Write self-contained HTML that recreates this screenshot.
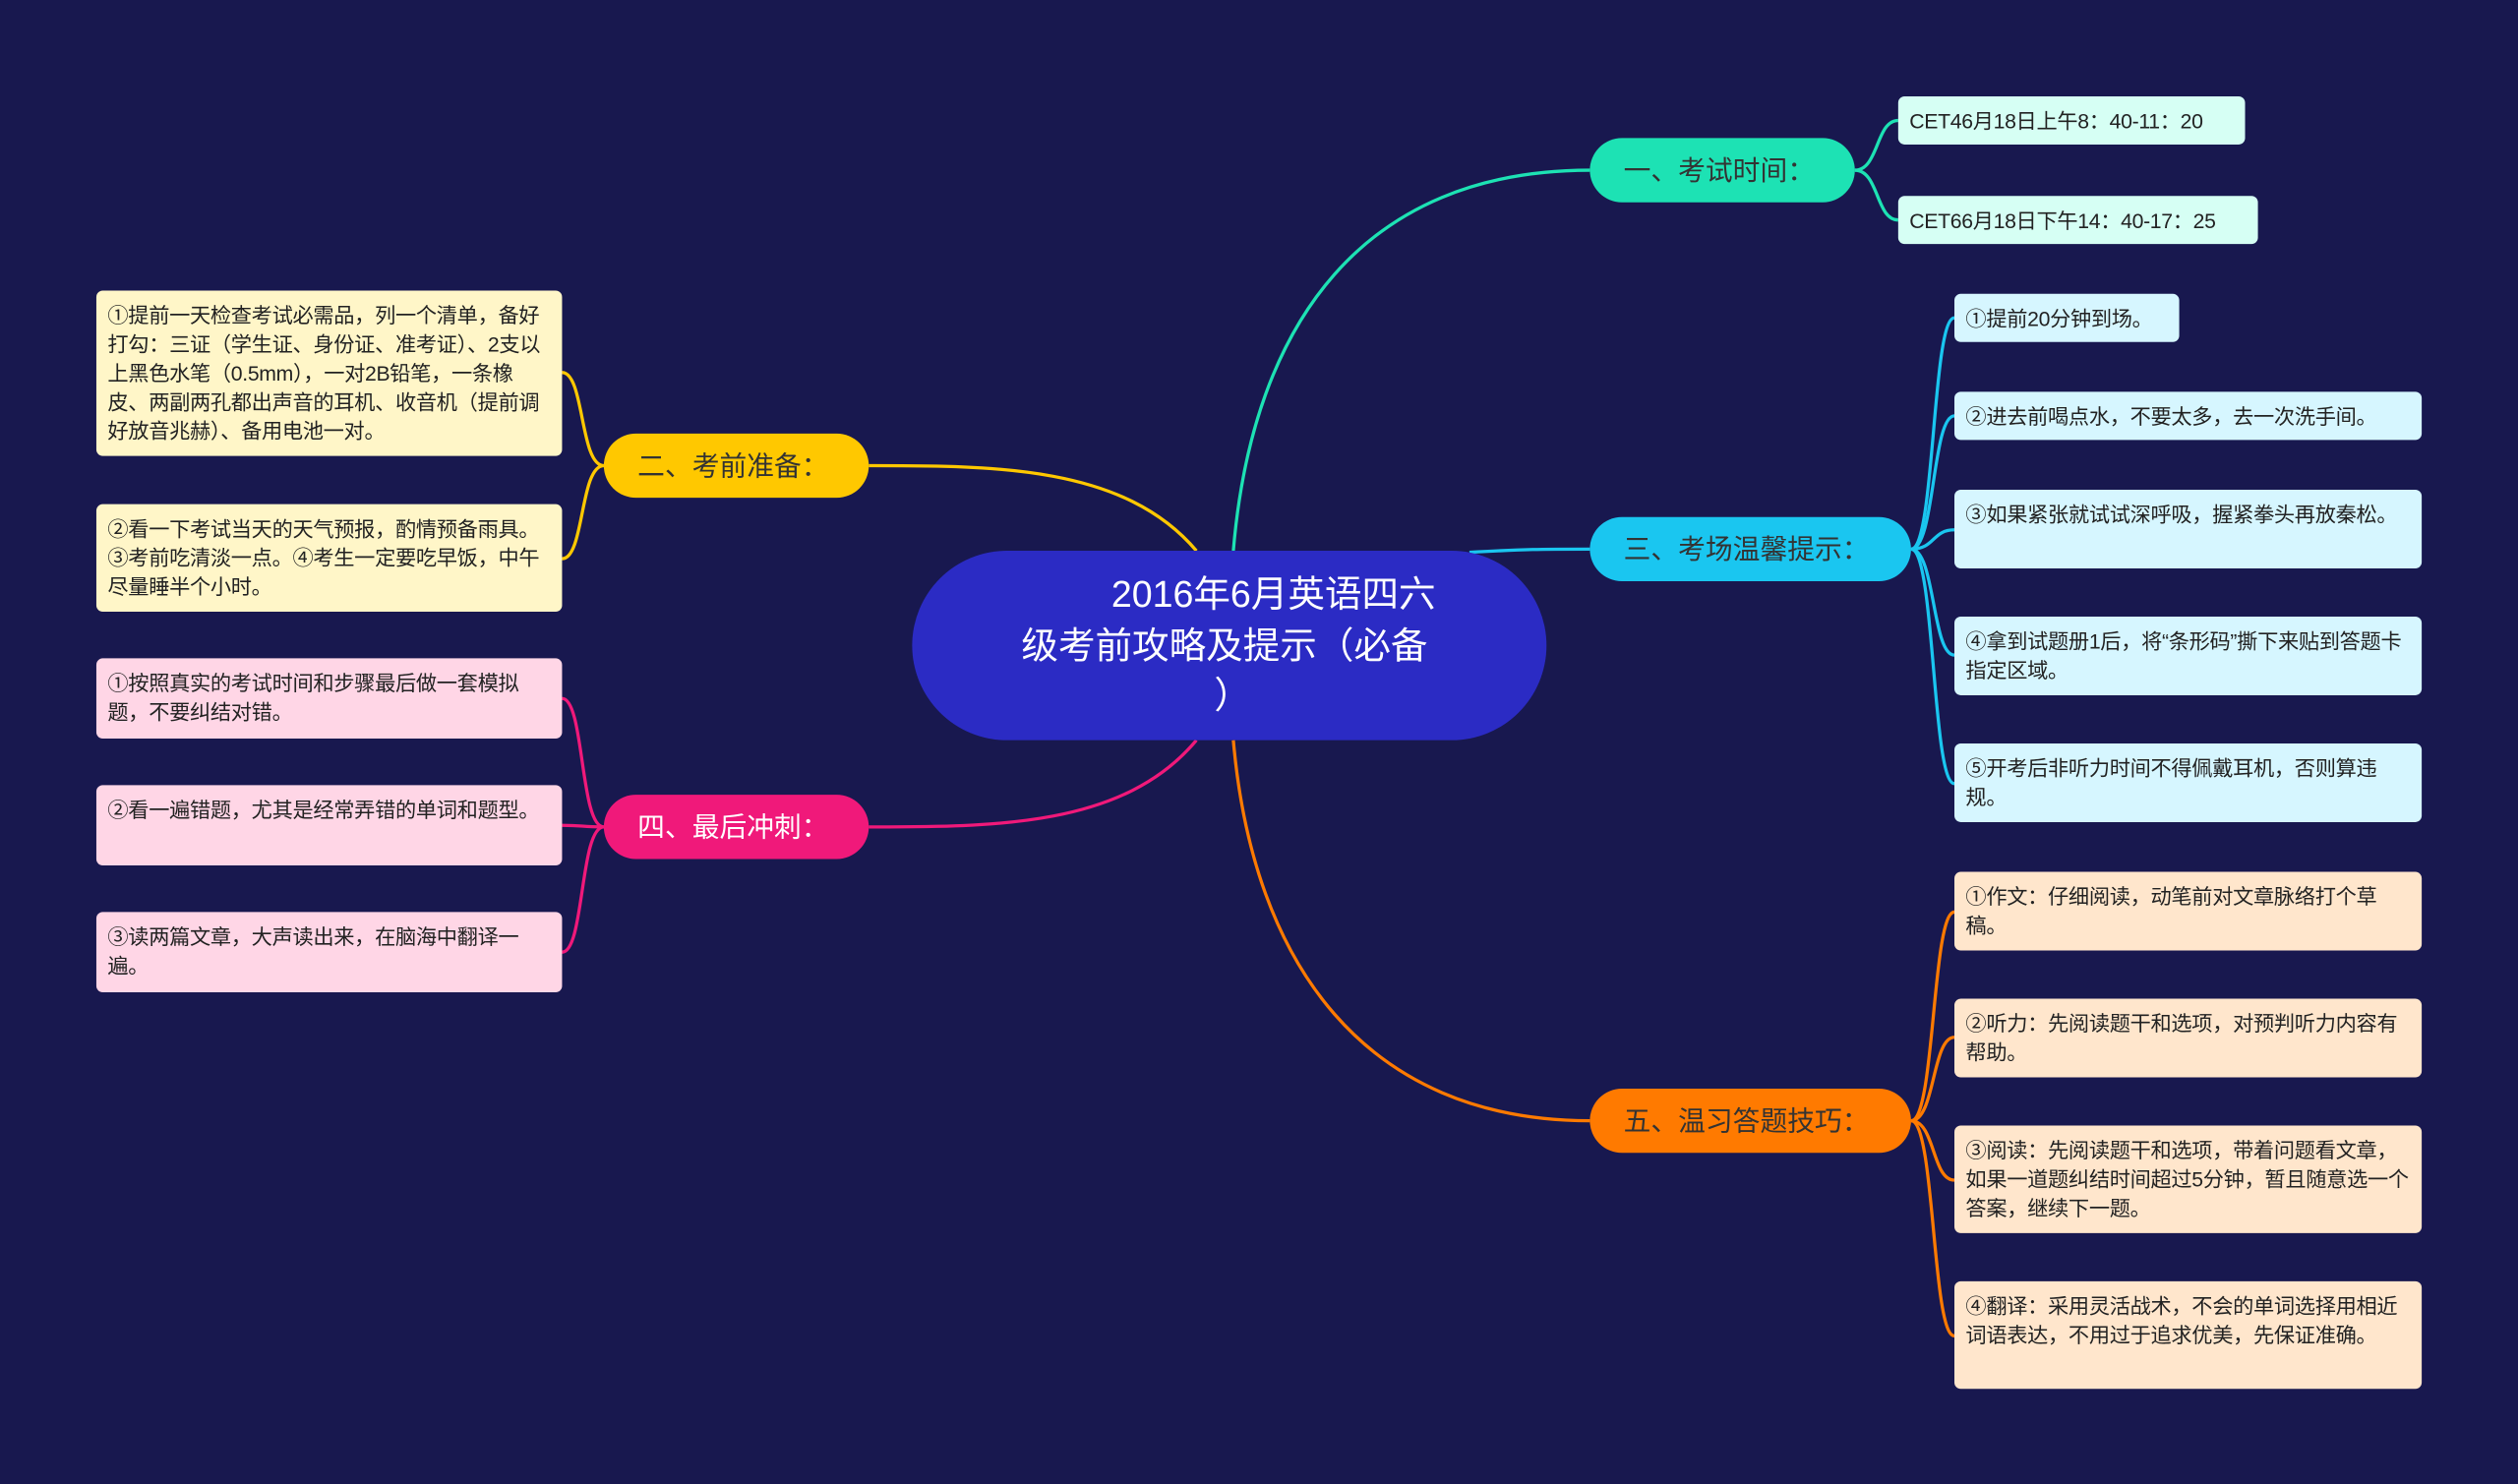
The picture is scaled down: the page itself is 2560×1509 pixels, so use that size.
<!DOCTYPE html>
<html><head><meta charset="utf-8">
<style>
html,body{margin:0;padding:0;background:#18184f;}
body{width:2560px;height:1509px;overflow:hidden;}
#w{position:absolute;left:0;top:0;width:1568px;height:924px;transform:scale(1.6327);transform-origin:0 0;font-family:"Liberation Sans","Noto Sans CJK SC",sans-serif;}
.b{position:absolute;box-sizing:border-box;border-radius:20px;font-size:17px;line-height:42px;height:40px;padding-left:21px;color:#333;}
.l{position:absolute;box-sizing:border-box;border-radius:4px;font-size:13px;line-height:18px;padding:7px 6px 4px 7px;color:#222;letter-spacing:-0.2px;}
.c{position:absolute;left:568px;top:343px;width:395px;height:118px;border-radius:59px;background:#2b2bc4;color:#fff;font-size:23px;line-height:32px;}
</style></head><body><div id="w">
<svg width="1568" height="924" style="position:absolute;left:0;top:0">
<g fill="none" stroke-width="2">
<path d="M768 343 C780 200 850 106 990 106" stroke="#1de2b4"/>
<path d="M915 344 C950 342 960 342 990 342" stroke="#1ac6f0"/>
<path d="M768 461 C780 600 850 698 990 698" stroke="#ff7a00"/>
<path d="M745 343 C700 290 620 290 541 290" stroke="#ffc800"/>
<path d="M745 461 C700 515 620 515 541 515" stroke="#f0197a"/>
<g stroke="#1de2b4"><path d="M1155 106 C1170 106 1168 75 1182 75"/><path d="M1155 106 C1170 106 1168 137 1182 137"/></g>
<g stroke="#1ac6f0">
<path d="M1190 342 C1205 342 1203 198 1217 198"/><path d="M1190 342 C1205 342 1203 259 1217 259"/><path d="M1190 342 C1205 342 1203 330 1217 330"/><path d="M1190 342 C1205 342 1203 408 1217 408"/><path d="M1190 342 C1205 342 1203 488 1217 488"/></g>
<g stroke="#ff7a00">
<path d="M1190 698 C1205 698 1203 568 1217 568"/><path d="M1190 698 C1205 698 1203 646 1217 646"/><path d="M1190 698 C1205 698 1203 735 1217 735"/><path d="M1190 698 C1205 698 1203 832 1217 832"/></g>
<g stroke="#ffc800"><path d="M376 290 C361 290 364 232 350 232"/><path d="M376 290 C361 290 364 348 350 348"/></g>
<g stroke="#f0197a"><path d="M376 515 C361 515 364 435 350 435"/><path d="M376 515 C361 515 364 514 350 514"/><path d="M376 515 C361 515 364 593 350 593"/></g>
</g></svg>
<div class="c"><div style="position:absolute;left:124px;top:11px">2016年6月英语四六</div><div style="position:absolute;left:68px;top:43px;white-space:nowrap">级考前攻略及提示（必备</div><div style="position:absolute;left:188px;top:74px">）</div></div>
<div class="b" style="left:990px;top:86px;width:165px;background:#1de2b4">一、考试时间：</div>
<div class="b" style="left:990px;top:322px;width:200px;background:#1ac6f0">三、考场温馨提示：</div>
<div class="b" style="left:990px;top:678px;width:200px;background:#ff7a00">五、温习答题技巧：</div>
<div class="b" style="left:376px;top:270px;width:165px;background:#ffc800">二、考前准备：</div>
<div class="b" style="left:376px;top:495px;width:165px;background:#f0197a;color:#fff">四、最后冲刺：</div>
<div class="l" style="left:1182px;top:60px;width:216px;height:30px;background:#d6fff4">CET46月18日上午8：40-11：20</div>
<div class="l" style="left:1182px;top:122px;width:224px;height:30px;background:#d6fff4">CET66月18日下午14：40-17：25</div>
<div class="l" style="left:1217px;top:183px;width:140px;height:30px;background:#d6f6ff">①提前20分钟到场。</div>
<div class="l" style="left:1217px;top:244px;width:291px;height:30px;background:#d6f6ff">②进去前喝点水，不要太多，去一次洗手间。</div>
<div class="l" style="left:1217px;top:305px;width:291px;height:49px;background:#d6f6ff">③如果紧张就试试深呼吸，握紧拳头再放秦松。</div>
<div class="l" style="left:1217px;top:384px;width:291px;height:49px;background:#d6f6ff">④拿到试题册1后，将“条形码”撕下来贴到答题卡指定区域。</div>
<div class="l" style="left:1217px;top:463px;width:291px;height:49px;background:#d6f6ff">⑤开考后非听力时间不得佩戴耳机，否则算违规。</div>
<div class="l" style="left:1217px;top:543px;width:291px;height:49px;background:#ffe6cc">①作文：仔细阅读，动笔前对文章脉络打个草稿。</div>
<div class="l" style="left:1217px;top:622px;width:291px;height:49px;background:#ffe6cc">②听力：先阅读题干和选项，对预判听力内容有帮助。</div>
<div class="l" style="left:1217px;top:701px;width:291px;height:67px;background:#ffe6cc">③阅读：先阅读题干和选项，带着问题看文章，如果一道题纠结时间超过5分钟，暂且随意选一个答案，继续下一题。</div>
<div class="l" style="left:1217px;top:798px;width:291px;height:67px;background:#ffe6cc">④翻译：采用灵活战术，不会的单词选择用相近词语表达，不用过于追求优美，先保证准确。</div>
<div class="l" style="left:60px;top:181px;width:290px;height:103px;background:#fff6c8">①提前一天检查考试必需品，列一个清单，备好打勾：三证（学生证、身份证、准考证）、2支以上黑色水笔（0.5mm），一对2B铅笔，一条橡皮、两副两孔都出声音的耳机、收音机（提前调好放音兆赫）、备用电池一对。</div>
<div class="l" style="left:60px;top:314px;width:290px;height:67px;background:#fff6c8">②看一下考试当天的天气预报，酌情预备雨具。③考前吃清淡一点。④考生一定要吃早饭，中午尽量睡半个小时。</div>
<div class="l" style="left:60px;top:410px;width:290px;height:50px;background:#ffd6e6">①按照真实的考试时间和步骤最后做一套模拟题，不要纠结对错。</div>
<div class="l" style="left:60px;top:489px;width:290px;height:50px;background:#ffd6e6">②看一遍错题，尤其是经常弄错的单词和题型。</div>
<div class="l" style="left:60px;top:568px;width:290px;height:50px;background:#ffd6e6">③读两篇文章，大声读出来，在脑海中翻译一遍。</div>
</div></body></html>
